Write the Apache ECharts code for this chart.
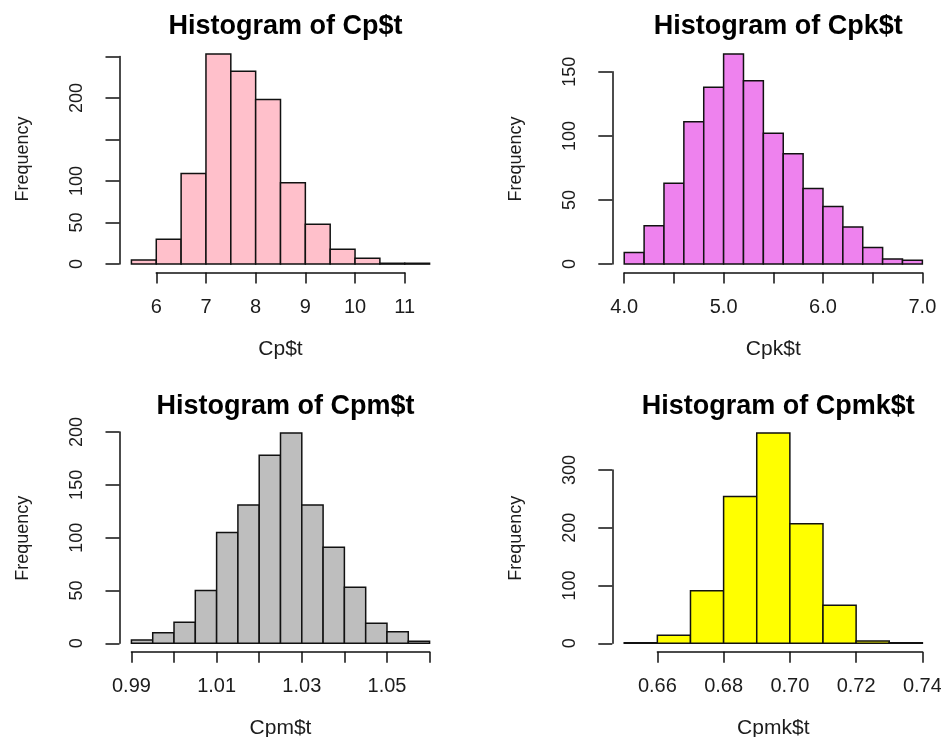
<!DOCTYPE html>
<html>
<head>
<meta charset="utf-8">
<script src="https://cdn.jsdelivr.net/npm/echarts@6/dist/echarts.min.js"></script>
<style>
  html, body { margin: 0; padding: 0; background: #ffffff; }
  #chart { width: 941px; height: 737px; }
</style>
</head>
<body>
<div id="chart"></div>
<script>
// ---- Histogram data: bin edges and frequencies ----
const cpBreaks = [5.5, 6.0, 6.5, 7.0, 7.5, 8.0, 8.5, 9.0, 9.5, 10.0, 10.5, 11.0, 11.5];
const cpCounts = [5, 30, 109, 253, 232, 198, 98, 48, 18, 7, 1, 1];

const cpkBreaks = [4.0, 4.2, 4.4, 4.6, 4.8, 5.0, 5.2, 5.4, 5.6, 5.8, 6.0, 6.2, 6.4, 6.6, 6.8, 7.0];
const cpkCounts = [9, 30, 63, 111, 138, 164, 143, 102, 86, 59, 45, 29, 13, 4, 3];

const cpmBreaks = [0.990, 0.995, 1.000, 1.005, 1.010, 1.015, 1.020, 1.025, 1.030, 1.035, 1.040, 1.045, 1.050, 1.055, 1.060];
const cpmCounts = [3, 10, 20, 50, 105, 131, 178, 199, 131, 91, 53, 19, 11, 2];

const cpmkBreaks = [0.65, 0.66, 0.67, 0.68, 0.69, 0.70, 0.71, 0.72, 0.73, 0.74];
const cpmkCounts = [1, 14, 91, 254, 364, 207, 66, 4, 1];

// ---- Axis ticks and their labels ('' = tick without label) ----
const cpXTicks = [6, 7, 8, 9, 10, 11];
const cpXTickLabels = ['6', '7', '8', '9', '10', '11'];
const cpYTicks = [0, 50, 100, 150, 200, 250];
const cpYTickLabels = ['0', '50', '100', '', '200', ''];

const cpkXTicks = [4.0, 4.5, 5.0, 5.5, 6.0, 6.5, 7.0];
const cpkXTickLabels = ['4.0', '', '5.0', '', '6.0', '', '7.0'];
const cpkYTicks = [0, 50, 100, 150];
const cpkYTickLabels = ['0', '50', '100', '150'];

const cpmXTicks = [0.99, 1.00, 1.01, 1.02, 1.03, 1.04, 1.05, 1.06];
const cpmXTickLabels = ['0.99', '', '1.01', '', '1.03', '', '1.05', ''];
const cpmYTicks = [0, 50, 100, 150, 200];
const cpmYTickLabels = ['0', '50', '100', '150', '200'];

const cpmkXTicks = [0.66, 0.68, 0.70, 0.72, 0.74];
const cpmkXTickLabels = ['0.66', '0.68', '0.70', '0.72', '0.74'];
const cpmkYTicks = [0, 100, 200, 300];
const cpmkYTickLabels = ['0', '100', '200', '300'];

// ---- Panel text ----
const titles = ['Histogram of Cp$t', 'Histogram of Cpk$t', 'Histogram of Cpm$t', 'Histogram of Cpmk$t'];
const xNames = ['Cp$t', 'Cpk$t', 'Cpm$t', 'Cpmk$t'];
const yName = 'Frequency';

// ---- Styling / layout ----
const FONT = '"Liberation Sans", Arial, Helvetica, sans-serif';
const INK = '#111111';
const TEXT = '#1c1c1c';
const PLOT_W = 322;
const PLOT_H = 227;
const fills = ['#FFC0CB', '#EE82EE', '#BEBEBE', '#FFFF00'];
const plotOrigins = [[119.5, 45.5], [612.3, 45.5], [119.5, 424.7], [612.3, 424.7]];

const panels = [
  { breaks: cpBreaks,   counts: cpCounts,   xt: cpXTicks,   xl: cpXTickLabels,   yt: cpYTicks,   yl: cpYTickLabels },
  { breaks: cpkBreaks,  counts: cpkCounts,  xt: cpkXTicks,  xl: cpkXTickLabels,  yt: cpkYTicks,  yl: cpkYTickLabels },
  { breaks: cpmBreaks,  counts: cpmCounts,  xt: cpmXTicks,  xl: cpmXTickLabels,  yt: cpmYTicks,  yl: cpmYTickLabels },
  { breaks: cpmkBreaks, counts: cpmkCounts, xt: cpmkXTicks, xl: cpmkXTickLabels, yt: cpmkYTicks, yl: cpmkYTickLabels }
];

function labelFor(ticks, labels) {
  return function (v) {
    for (let i = 0; i < ticks.length; i++) {
      if (Math.abs(ticks[i] - v) < 1e-9) return labels[i];
    }
    return '';
  };
}

const grid = [], xAxis = [], yAxis = [], series = [], title = [];

panels.forEach(function (p, i) {
  const [L, T] = plotOrigins[i];
  const b0 = p.breaks[0], bN = p.breaks[p.breaks.length - 1];
  const padX = 0.04 * (bN - b0);
  const xMin = b0 - padX, xMax = bN + padX;
  const cMax = Math.max.apply(null, p.counts);
  const yMin = -0.04 * cMax, yMax = 1.04 * cMax;
  const px = function (x) { return L + (x - xMin) / (xMax - xMin) * PLOT_W; };
  const py = function (y) { return T + (yMax - y) / (yMax - yMin) * PLOT_H; };

  const xt0 = p.xt[0], xtN = p.xt[p.xt.length - 1];
  const yt0 = p.yt[0], ytN = p.yt[p.yt.length - 1];
  const base = grid.length;

  // plot region holding the bars
  grid.push({ left: L, top: T, width: PLOT_W, height: PLOT_H, outerBoundsMode: 'none' });
  // strip carrying the x axis line (spans first to last tick)
  grid.push({ left: px(xt0), width: px(xtN) - px(xt0), top: T + PLOT_H - 10, height: 10, outerBoundsMode: 'none' });
  // strip carrying the y axis line (spans first to last tick)
  grid.push({ left: L, width: 10, top: py(ytN), height: py(yt0) - py(ytN), outerBoundsMode: 'none' });

  const hidden = { show: false };

  xAxis.push({
    gridIndex: base, type: 'value', min: xMin, max: xMax,
    axisLine: hidden, axisTick: hidden, axisLabel: hidden, splitLine: hidden,
    name: xNames[i], nameLocation: 'middle', nameGap: 66,
    nameTextStyle: { fontFamily: FONT, fontSize: 21, color: TEXT }
  });
  yAxis.push({
    gridIndex: base, type: 'value', min: yMin, max: yMax,
    axisLine: hidden, axisTick: hidden, axisLabel: hidden, splitLine: hidden,
    name: yName, nameLocation: 'middle', nameRotate: 90, nameGap: 87,
    nameTextStyle: { fontFamily: FONT, fontSize: 18, color: TEXT }
  });

  // visible x axis
  xAxis.push({
    gridIndex: base + 1, type: 'value', position: 'bottom', min: xt0, max: xtN,
    axisLine: { show: true, lineStyle: { color: INK, width: 1.5 } },
    axisTick: { show: true, length: 11, customValues: p.xt, lineStyle: { color: INK, width: 1.5 } },
    axisLabel: {
      show: true, customValues: p.xt.filter(function (v, k) { return p.xl[k] !== ''; }),
      formatter: labelFor(p.xt, p.xl), margin: 25,
      fontFamily: FONT, fontSize: 20, color: TEXT
    },
    splitLine: hidden
  });
  yAxis.push({ gridIndex: base + 1, type: 'value', show: false });

  // visible y axis
  xAxis.push({ gridIndex: base + 2, type: 'value', show: false });
  yAxis.push({
    gridIndex: base + 2, type: 'value', position: 'left', min: yt0, max: ytN,
    axisLine: { show: true, lineStyle: { color: INK, width: 1.5 } },
    axisTick: { show: true, length: 14, customValues: p.yt, lineStyle: { color: INK, width: 1.5 } },
    axisLabel: {
      show: true, rotate: 90, customValues: p.yt.filter(function (v, k) { return p.yl[k] !== ''; }),
      formatter: labelFor(p.yt, p.yl), margin: 33,
      fontFamily: FONT, fontSize: 18, color: TEXT
    },
    splitLine: hidden
  });

  // bars: one rectangle per bin [left edge, right edge, count]
  const binData = p.counts.map(function (c, k) { return [p.breaks[k], p.breaks[k + 1], c]; });
  series.push({
    type: 'custom',
    xAxisIndex: base, yAxisIndex: base,
    encode: { x: [0, 1], y: 2 },
    data: binData,
    clip: false,
    silent: true,
    renderItem: function (params, api) {
      const a = api.coord([api.value(0), api.value(2)]);
      const b = api.coord([api.value(1), 0]);
      return {
        type: 'rect',
        shape: { x: a[0], y: a[1], width: b[0] - a[0], height: b[1] - a[1] },
        style: { fill: fills[i], stroke: INK, lineWidth: 1.5 }
      };
    }
  });

  title.push({
    text: titles[i],
    left: L + PLOT_W / 2, top: T - 37, textAlign: 'center',
    textStyle: { fontFamily: FONT, fontSize: 27, fontWeight: 'bold', color: '#000000' }
  });
});

const chart = echarts.init(document.getElementById('chart'), null, { renderer: 'canvas' });
chart.setOption({
  backgroundColor: '#ffffff',
  animation: false,
  title: title,
  grid: grid,
  xAxis: xAxis,
  yAxis: yAxis,
  series: series
});
</script>
</body>
</html>
